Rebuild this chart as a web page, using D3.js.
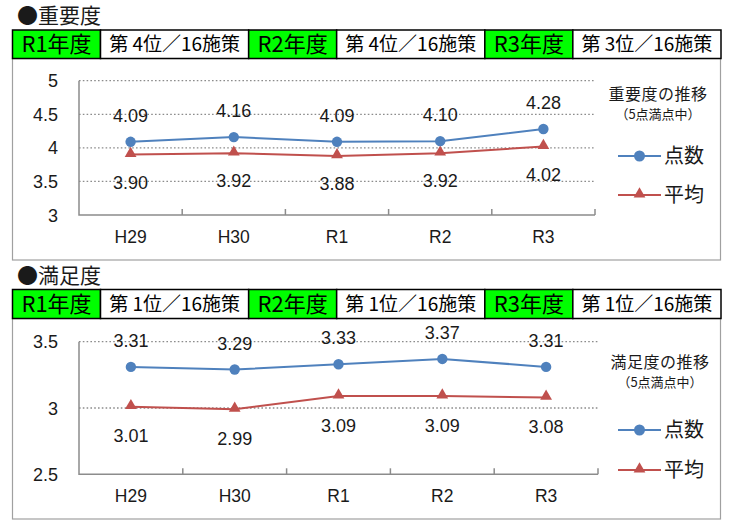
<!DOCTYPE html>
<html>
<head>
<meta charset="UTF-8">
<title>重要度・満足度の推移</title>
<script src="https://d3js.org/d3.v7.min.js"></script>
<style>
    body {margin: 0; background: white;}
    text {fill: #1a1a1a;}
    .jp {font-family: "Noto Sans CJK JP", sans-serif;}
    .num {font-family: "Liberation Sans", Arial, sans-serif;}
    .grid {stroke: #8c8c8c; stroke-width: 1.3; stroke-dasharray: 1.6,2.2;}
    .axis {stroke: #8c8c8c; stroke-width: 1.5; fill: none;}
</style>
</head>
<body>
<div id="chart"></div>
<script>

    var categories = ["H29", "H30", "R1", "R2", "R3"];

    var importanceScore = [4.09, 4.16, 4.09, 4.10, 4.28];
    var importanceAvg   = [3.90, 3.92, 3.88, 3.92, 4.02];
    var importanceTicks = [3, 3.5, 4, 4.5, 5];

    var satisfactionScore = [3.31, 3.29, 3.33, 3.37, 3.31];
    var satisfactionAvg   = [3.01, 2.99, 3.09, 3.09, 3.08];
    var satisfactionTicks = [2.5, 3, 3.5];

    var years = ["R1年度", "R2年度", "R3年度"];
    var importanceRanks = [4, 4, 3];
    var satisfactionRanks = [1, 1, 1];
    var totalMeasures = 16;

    var seriesNames = ["点数", "平均"];
    var blue = "#4f81bd", red = "#c0504d";

    var svg = d3.select("#chart").append("svg")
        .attr("width", 750)
        .attr("height", 520);

    var fmt = d3.format(".2f");

    function drawPanel(p) {
        var g = svg.append("g");

        // heading
        g.append("text").attr("class", "jp")
            .attr("x", 17).attr("y", p.titleY)
            .style("font-size", "21px")
            .text(p.title);

        // chart frame
        g.append("rect")
            .attr("x", 12.5).attr("y", p.tableBottom)
            .attr("width", 708).attr("height", p.boxBottom - p.tableBottom)
            .attr("fill", "none").attr("stroke", "#a0a0a0").attr("stroke-width", 1.2);

        // rank table
        var pairW = (721 - 12.5) / 3, greenW = 88;
        var th = p.tableBottom - p.tableTop;
        var cells = g.selectAll(".cell").data(years).enter().append("g")
            .attr("transform", function(d, i) {return "translate(" + (12.5 + i * pairW) + "," + p.tableTop + ")"});
        cells.append("rect").attr("width", greenW).attr("height", th)
            .attr("fill", "#00ff00").attr("stroke", "black").attr("stroke-width", 1.5);
        cells.append("rect").attr("x", greenW).attr("width", pairW - greenW).attr("height", th)
            .attr("fill", "white").attr("stroke", "black").attr("stroke-width", 1.5);
        cells.append("text").attr("class", "jp")
            .attr("x", greenW / 2).attr("y", th / 2 + 8)
            .attr("text-anchor", "middle")
            .style("font-size", "22px").style("fill", "black")
            .text(function(d) {return d});
        cells.append("text").attr("class", "jp")
            .attr("x", greenW + (pairW - greenW) / 2).attr("y", th / 2 + 7)
            .attr("text-anchor", "middle")
            .style("font-size", "19px").style("fill", "black")
            .text(function(d, i) {return "第 " + p.ranks[i] + "位／" + totalMeasures + "施策"});

        // scales
        var x = d3.scaleBand().domain(categories).range([79, p.plotRight]);
        var y = d3.scaleLinear().domain(p.domain).range([p.plotBottom, p.plotTop]);

        // gridlines
        g.selectAll(".grid").data(p.ticks.slice(1)).enter().append("line")
            .attr("class", "grid")
            .attr("x1", 79).attr("x2", p.plotRight)
            .attr("y1", function(d) {return y(d)}).attr("y2", function(d) {return y(d)});

        // axes
        g.append("path").attr("class", "axis")
            .attr("d", "M79," + y(p.domain[1]) + "V" + y(p.domain[0]) + "H" + p.plotRight);
        g.selectAll(".xtick").data(categories).enter().append("line")
            .attr("class", "axis")
            .attr("x1", function(d) {return x(d) + x.bandwidth()}).attr("x2", function(d) {return x(d) + x.bandwidth()})
            .attr("y1", y(p.domain[0])).attr("y2", y(p.domain[0]) - 6);

        g.selectAll(".ylab").data(p.ticks).enter().append("text")
            .attr("class", "num")
            .attr("x", 58).attr("y", function(d) {return y(d) + 6.5})
            .attr("text-anchor", "end")
            .style("font-size", "18px")
            .text(function(d) {return d});

        g.selectAll(".xlab").data(categories).enter().append("text")
            .attr("class", "num")
            .attr("x", function(d) {return x(d) + x.bandwidth() / 2})
            .attr("y", y(p.domain[0]) + 28)
            .attr("text-anchor", "middle")
            .style("font-size", "17.5px")
            .text(function(d) {return d});

        var cx = function(d, i) {return x(categories[i]) + x.bandwidth() / 2};
        var line = d3.line().x(cx).y(function(d) {return y(d)});
        var tri = d3.symbol().type(d3.symbolTriangle).size(60);

        // average series
        g.append("path").datum(p.avg)
            .attr("d", line).attr("fill", "none").attr("stroke", red).attr("stroke-width", 2);
        g.selectAll(".avgpt").data(p.avg).enter().append("path")
            .attr("d", tri)
            .attr("transform", function(d, i) {return "translate(" + cx(d, i) + "," + (y(d) - 1) + ")"})
            .attr("fill", red);
        g.selectAll(".avglab").data(p.avg).enter().append("text")
            .attr("class", "num")
            .attr("x", cx).attr("y", function(d) {return y(d) + p.belowOff})
            .attr("text-anchor", "middle")
            .style("font-size", "18px")
            .text(function(d) {return fmt(d)});

        // score series
        g.append("path").datum(p.score)
            .attr("d", line).attr("fill", "none").attr("stroke", blue).attr("stroke-width", 2);
        g.selectAll(".scorept").data(p.score).enter().append("circle")
            .attr("cx", cx).attr("cy", function(d) {return y(d)})
            .attr("r", 5.2).attr("fill", blue);
        g.selectAll(".scorelab").data(p.score).enter().append("text")
            .attr("class", "num")
            .attr("x", cx).attr("y", function(d) {return y(d) - 20})
            .attr("text-anchor", "middle")
            .style("font-size", "18px")
            .text(function(d) {return fmt(d)});

        // legend
        g.append("text").attr("class", "jp")
            .attr("x", p.legendX).attr("y", p.legendTitleY)
            .attr("text-anchor", "middle")
            .style("font-size", "16px").style("letter-spacing", "0.5px")
            .text(p.legendTitle);
        g.append("text").attr("class", "jp")
            .attr("x", p.legendX).attr("y", p.legendTitleY + 19)
            .attr("text-anchor", "middle")
            .style("font-size", "13px")
            .text("（5点満点中）");

        var rows = g.selectAll(".leg").data(seriesNames).enter().append("g")
            .attr("transform", function(d, i) {return "translate(0," + p.legendRows[i] + ")"});
        rows.append("line").attr("x1", 618).attr("x2", 661)
            .attr("stroke", function(d, i) {return i ? red : blue}).attr("stroke-width", 2);
        rows.filter(function(d, i) {return i == 0}).append("circle")
            .attr("cx", 639.5).attr("r", 5.5).attr("fill", blue);
        rows.filter(function(d, i) {return i == 1}).append("path")
            .attr("d", tri).attr("transform", "translate(639.5,-1)").attr("fill", red);
        rows.append("text").attr("class", "jp")
            .attr("x", 664).attr("y", 7)
            .style("font-size", "20px")
            .text(function(d) {return d});
    }

    drawPanel({
        title: "●重要度", titleY: 23,
        tableTop: 30, tableBottom: 58.5, boxBottom: 260,
        ranks: importanceRanks,
        domain: [3, 5], ticks: importanceTicks,
        plotTop: 80.7, plotBottom: 215, plotRight: 595,
        score: importanceScore, avg: importanceAvg, belowOff: 34,
        legendTitle: "重要度の推移", legendX: 658, legendTitleY: 100,
        legendRows: [156, 195]
    });

    drawPanel({
        title: "●満足度", titleY: 283,
        tableTop: 289.5, tableBottom: 318.5, boxBottom: 519,
        ranks: satisfactionRanks,
        domain: [2.5, 3.5], ticks: satisfactionTicks,
        plotTop: 341.7, plotBottom: 474.3, plotRight: 598,
        score: satisfactionScore, avg: satisfactionAvg, belowOff: 35.5,
        legendTitle: "満足度の推移", legendX: 660, legendTitleY: 368,
        legendRows: [430, 470]
    });

</script>
</body>
</html>
